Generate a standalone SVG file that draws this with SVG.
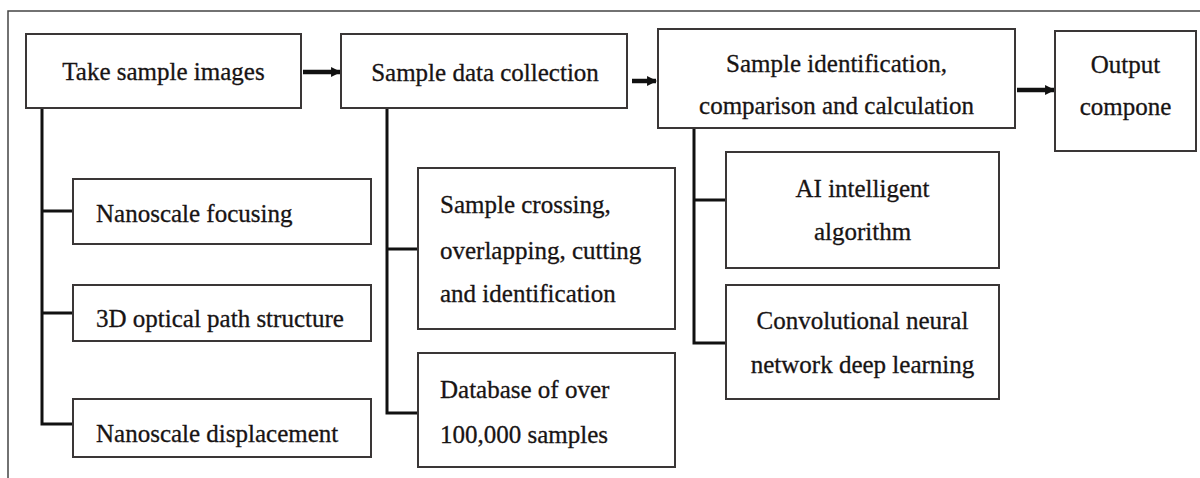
<svg xmlns="http://www.w3.org/2000/svg" width="1200" height="478" viewBox="0 0 1200 478">
  <defs>
    <style>
      .box { fill: #ffffff; stroke: #3a3636; stroke-width: 2; }
      .lbl { font-family: 'Liberation Serif', 'Times New Roman', serif; font-size: 25px; fill: #181414; stroke: #181414; stroke-width: 0.3; }
      .mid { text-anchor: middle; }
      .tree { fill: none; stroke: #111111; stroke-width: 3; }
      .flow { fill: none; stroke: #111111; stroke-width: 4.5; }
      .frame { fill: none; stroke: #444444; stroke-width: 1.5; }
    </style>
    <marker id="head" viewBox="0 0 10 10" refX="9" refY="5" markerWidth="2.2" markerHeight="2.6" orient="auto" markerUnits="strokeWidth">
      <path d="M0,0 L10,5 L0,10 Z" fill="#111111"/>
    </marker>
  </defs>

  <rect width="1200" height="478" fill="#ffffff"/>

  <!-- outer frame: top and left edges only -->
  <path class="frame" d="M8,478 V11 H1200"/>

  <!-- connectors -->
  <g id="connectors">
    <line class="flow" x1="303" y1="72" x2="340" y2="72" marker-end="url(#head)"/>
    <line class="flow" x1="632" y1="81" x2="656" y2="81" marker-end="url(#head)"/>
    <line class="flow" x1="1017" y1="90" x2="1054" y2="90" marker-end="url(#head)"/>
    <path class="tree" d="M42,108 V424 H73 M42,211 H73 M42,313 H73"/>
    <path class="tree" d="M387,108 V413 H418 M387,249 H418"/>
    <path class="tree" d="M694,128 V343 H726 M694,200 H726"/>
  </g>

  <!-- main flow -->
  <g id="take-images">
    <rect class="box" x="26" y="34" width="275" height="74"/>
    <text class="lbl mid" x="163.5" y="80">Take sample images</text>
  </g>
  <g id="data-collection">
    <rect class="box" x="341" y="34" width="286" height="74"/>
    <text class="lbl mid" x="485" y="81">Sample data collection</text>
  </g>
  <g id="identification">
    <rect class="box" x="658" y="29" width="357" height="99"/>
    <text class="lbl mid" x="836.5" y="72">Sample identification,</text>
    <text class="lbl mid" x="836.5" y="114">comparison and calculation</text>
  </g>
  <g id="output">
    <rect class="box" x="1055" y="31" width="141" height="120"/>
    <text class="lbl mid" x="1125.5" y="73">Output</text>
    <text class="lbl mid" x="1125.5" y="115">compone</text>
  </g>

  <!-- imaging details -->
  <g id="nano-focusing">
    <rect class="box" x="73" y="179" width="298" height="65"/>
    <text class="lbl" x="96" y="222">Nanoscale focusing</text>
  </g>
  <g id="optical-path">
    <rect class="box" x="73" y="285" width="298" height="56"/>
    <text class="lbl" x="96" y="327">3D optical path structure</text>
  </g>
  <g id="nano-displacement">
    <rect class="box" x="73" y="399" width="298" height="58"/>
    <text class="lbl" x="96" y="442">Nanoscale displacement</text>
  </g>

  <!-- data collection details -->
  <g id="sample-crossing">
    <rect class="box" x="418" y="168" width="257" height="161"/>
    <text class="lbl" x="440" y="213">Sample crossing,</text>
    <text class="lbl" x="440" y="259">overlapping, cutting</text>
    <text class="lbl" x="440" y="302">and identification</text>
  </g>
  <g id="database">
    <rect class="box" x="418" y="353" width="257" height="114"/>
    <text class="lbl" x="440" y="398">Database of over</text>
    <text class="lbl" x="440" y="443">100,000 samples</text>
  </g>

  <!-- identification details -->
  <g id="ai-algorithm">
    <rect class="box" x="726" y="152" width="273" height="116"/>
    <text class="lbl mid" x="862.5" y="197">AI intelligent</text>
    <text class="lbl mid" x="862.5" y="240">algorithm</text>
  </g>
  <g id="cnn">
    <rect class="box" x="726" y="285" width="273" height="114"/>
    <text class="lbl mid" x="862.5" y="329">Convolutional neural</text>
    <text class="lbl mid" x="862.5" y="373">network deep learning</text>
  </g>
</svg>
